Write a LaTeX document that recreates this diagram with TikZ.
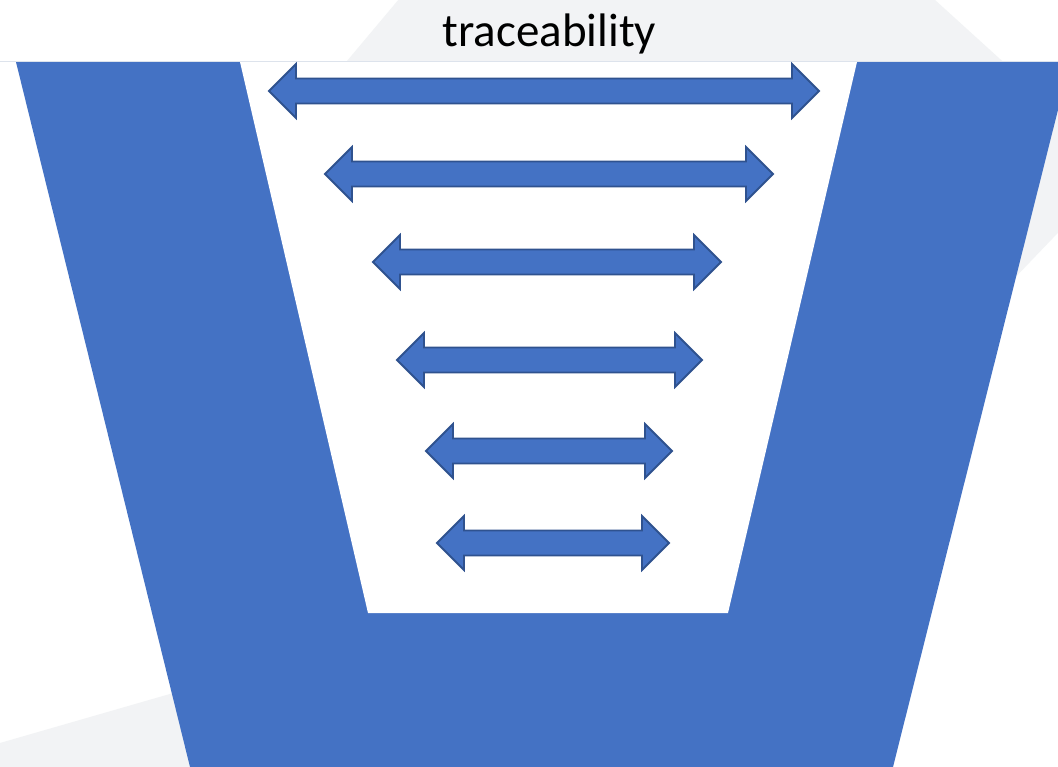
\documentclass[tikz,border=0pt]{standalone}
\usepackage{fontspec}
\setmainfont{Carlito}
\definecolor{funnelblue}{HTML}{4472C4}
\definecolor{arrowline}{HTML}{2F528F}
\definecolor{bggray}{HTML}{F2F3F5}
\definecolor{topline}{HTML}{DDE3EC}
\newcommand\dblarrow[4]{% name, left tip x, right tip x, y
  \path[arrowshape] (#2,#4) coordinate (#1-l) -- (#2+27,#4-27) -- (#2+27,#4-12.5) -- (#3-27,#4-12.5) -- (#3-27,#4-27)
    -- (#3,#4) coordinate (#1-r) -- (#3-27,#4+27) -- (#3-27,#4+12.5) -- (#2+27,#4+12.5) -- (#2+27,#4+27) -- cycle;}
\begin{document}
\begin{tikzpicture}[x=1pt,y=-1pt,
  arrowshape/.style={fill=funnelblue,draw=arrowline,line width=1.8pt,line join=miter},
  bgshape/.style={fill=bggray,draw=none},
  label/.style={font=\fontsize{47}{56}\selectfont,text=black,inner sep=0pt}]
\useasboundingbox (0,0) rectangle (1058,767);
\fill[white] (0,0) rectangle (1058,767);
% background hexagon shapes
\path[bgshape] (415,-20) -- (913,-20) -- (1120,168) -- (850,450) -- (263,161) -- (347,61) -- cycle;
\path[bgshape] (0,743) -- (260,668) -- (260,767) -- (0,767) -- cycle;
% funnel
\fill[funnelblue] (16,62) -- (1070,62) -- (893,767) -- (190,767) -- cycle;
\fill[white] (240,62) -- (857,62) -- (728,613) -- (368,613) -- cycle;
\draw[topline,line width=1pt] (0,61.5) -- (1058,61.5);
% label
\node[label,anchor=base] (title) at (549.5,46.5) {traceability};
% arrows
\dblarrow{a1}{269}{819}{91}
\dblarrow{a2}{325}{773}{174}
\dblarrow{a3}{373}{721}{262}
\dblarrow{a4}{397}{702}{360}
\dblarrow{a5}{426}{672}{451}
\dblarrow{a6}{437}{669}{543}
\end{tikzpicture}
\end{document}
